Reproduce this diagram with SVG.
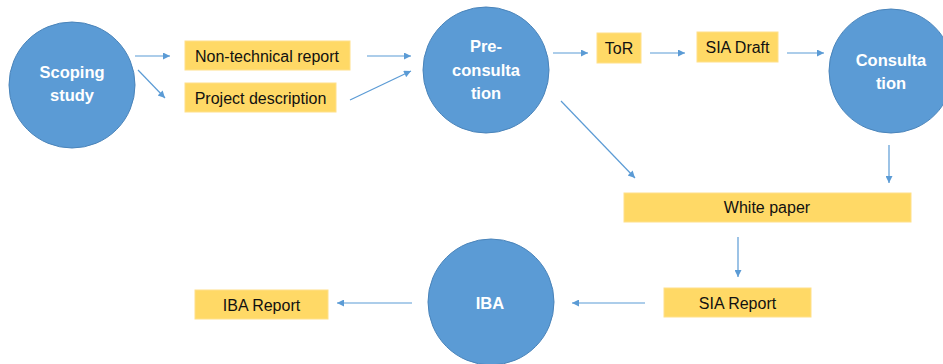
<svg xmlns="http://www.w3.org/2000/svg" width="943" height="364" viewBox="0 0 943 364">
<style>
.circ{fill:#5B9BD5;stroke:#4A84BA;stroke-width:1}
.box{fill:#FFD966;stroke:#FFE08A;stroke-width:1}
.ct{font-family:"Liberation Sans",Arial,sans-serif;font-weight:bold;font-size:16.5px;fill:#FFFFFF;text-anchor:middle}
.bt{font-family:"Liberation Sans",Arial,sans-serif;font-size:16px;fill:#111111;text-anchor:middle}
.conn line{stroke:#5B9BD5;stroke-width:1.2;marker-end:url(#ah)}
</style>
<defs>
<marker id="ah" viewBox="0 0 10 10" refX="10" refY="5" markerWidth="9" markerHeight="7" markerUnits="userSpaceOnUse" orient="auto">
<path d="M0,0 L10,5 L0,10 z" fill="#5B9BD5"/>
</marker>
</defs>
<rect width="943" height="364" fill="#FFFFFF"/>
<g id="scoping"><circle class="circ" cx="72" cy="85" r="63"/><text class="ct" x="72" y="78">Scoping</text><text class="ct" x="72" y="101">study</text></g>
<g id="nontech"><rect class="box" x="185" y="41" width="165" height="29"/><text class="bt" x="267" y="61.5">Non-technical report</text></g>
<g id="project"><rect class="box" x="185" y="83" width="151" height="29"/><text class="bt" x="260.5" y="103.5">Project description</text></g>
<g id="preconsultation"><circle class="circ" cx="486" cy="70" r="63"/><text class="ct" x="486" y="52">Pre-</text><text class="ct" x="486" y="75.5">consulta</text><text class="ct" x="486" y="99">tion</text></g>
<g id="tor"><rect class="box" x="597" y="33" width="44" height="30"/><text class="bt" x="619" y="54">ToR</text></g>
<g id="siadraft"><rect class="box" x="697" y="32" width="81" height="30"/><text class="bt" x="737.5" y="53">SIA Draft</text></g>
<g id="consultation"><circle class="circ" cx="891" cy="71" r="62"/><text class="ct" x="891" y="65.5">Consulta</text><text class="ct" x="891" y="88.5">tion</text></g>
<g id="whitepaper"><rect class="box" x="624" y="193" width="287" height="29"/><text class="bt" x="767" y="213">White paper</text></g>
<g id="siareport"><rect class="box" x="664" y="288" width="147" height="29"/><text class="bt" x="737.5" y="308.5">SIA Report</text></g>
<g id="iba"><circle class="circ" cx="491" cy="302" r="63"/><text class="ct" x="490" y="308.5">IBA</text></g>
<g id="ibareport"><rect class="box" x="195" y="290" width="133" height="29"/><text class="bt" x="261.5" y="310.5">IBA Report</text></g>
<g id="connectors" class="conn">
<line x1="135" y1="56" x2="170" y2="56"/>
<line x1="138" y1="70" x2="165" y2="98"/>
<line x1="367" y1="56" x2="411" y2="56"/>
<line x1="350" y1="100" x2="411" y2="71"/>
<line x1="553" y1="53" x2="588" y2="53"/>
<line x1="650" y1="53" x2="685" y2="53"/>
<line x1="787" y1="53" x2="824" y2="53"/>
<line x1="561" y1="101" x2="635" y2="178"/>
<line x1="889" y1="145" x2="889" y2="183"/>
<line x1="738" y1="237" x2="738" y2="277"/>
<line x1="645" y1="303" x2="572" y2="303"/>
<line x1="412" y1="303" x2="337" y2="303"/>
</g>
</svg>
